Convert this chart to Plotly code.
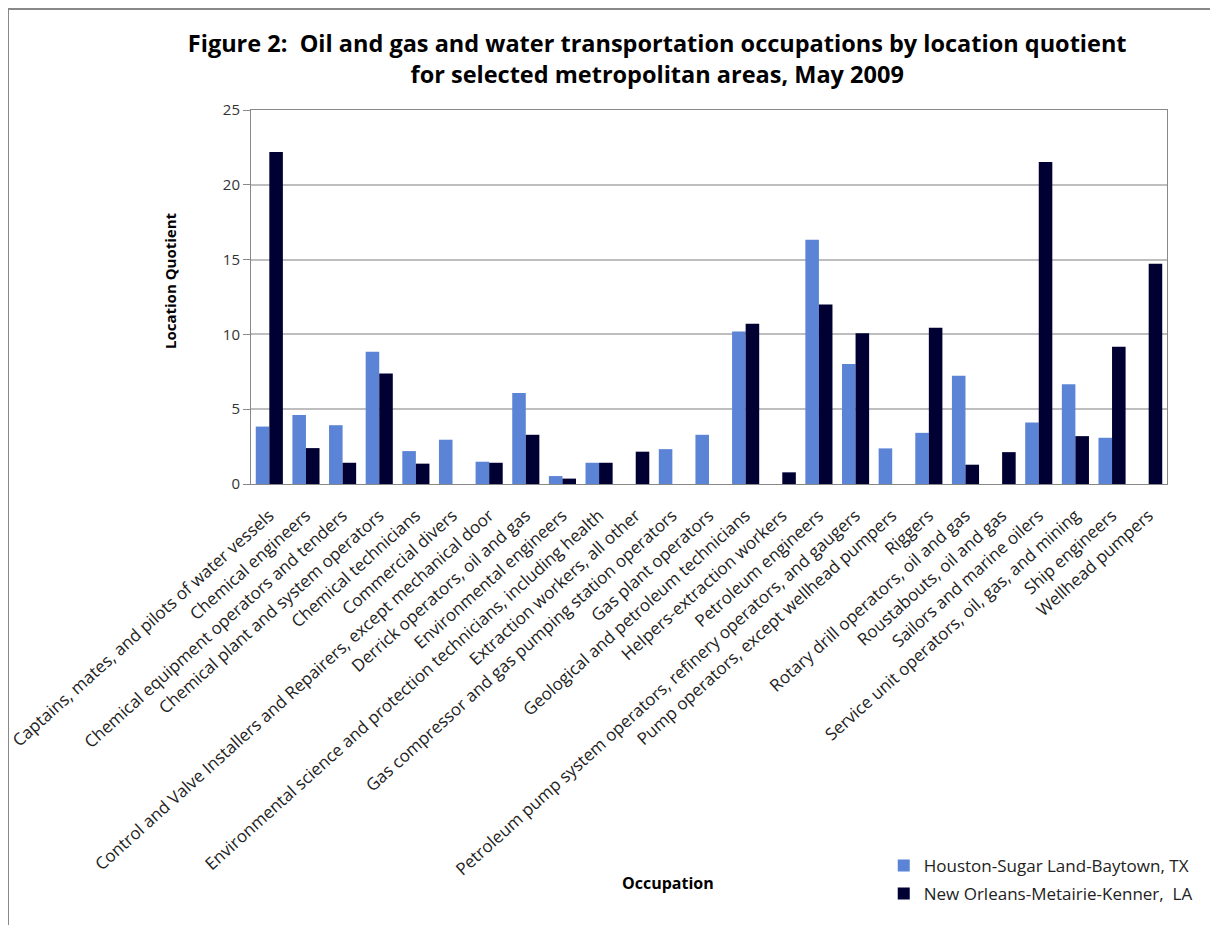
import plotly.graph_objects as go

occupations = [
    "Captains, mates, and pilots of water vessels",
    "Chemical engineers",
    "Chemical equipment operators and tenders",
    "Chemical plant and system operators",
    "Chemical technicians",
    "Commercial divers",
    "Control and Valve Installers and Repairers, except mechanical door",
    "Derrick operators, oil and gas",
    "Environmental engineers",
    "Environmental science and protection technicians, including health",
    "Extraction workers, all other",
    "Gas compressor and gas pumping station operators",
    "Gas plant operators",
    "Geological and petroleum technicians",
    "Helpers-extraction workers",
    "Petroleum engineers",
    "Petroleum pump system operators, refinery operators, and gaugers",
    "Pump operators, except wellhead pumpers",
    "Riggers",
    "Rotary drill operators, oil and gas",
    "Roustabouts, oil and gas",
    "Sailors and marine oilers",
    "Service unit operators, oil, gas, and mining",
    "Ship engineers",
    "Wellhead pumpers",
]

houston = [3.84, 4.62, 3.93, 8.84, 2.20, 2.96, 1.49, 6.09, 0.53, 1.42,
           None, 2.33, 3.29, 10.20, None, 16.33, 8.02, 2.38, 3.42, 7.24,
           None, 4.11, 6.67, 3.09, None]
new_orleans = [22.20, 2.40, 1.42, 7.38, 1.36, None, 1.42, 3.29, 0.36, 1.42,
               2.16, None, None, 10.71, 0.78, 12.00, 10.07, None, 10.44, 1.29,
               2.13, 21.53, 3.20, 9.18, 14.73]

FONT = "Open Sans"
W, H = 1218, 925
L, R, T, B = 243, 59, 102, 449
PW, PH = W - L - R, H - T - B


def px(x):
    return (x - L) / PW


def py(y):
    return (H - B - y) / PH


fig = go.Figure()
fig.add_bar(name="Houston-Sugar Land-Baytown, TX", x=occupations, y=houston,
            marker_color="#5B84D6", marker_line_width=0, legendgroup="a")
fig.add_bar(name="New Orleans-Metairie-Kenner,  LA", x=occupations, y=new_orleans,
            marker_color="#000033", marker_line_width=0, legendgroup="b")

fig.update_layout(
    width=W, height=H,
    paper_bgcolor="white", plot_bgcolor="white",
    margin=dict(l=L, r=R, t=T, b=B, autoexpand=False),
    barmode="group", bargap=0.26, bargroupgap=0,
    font=dict(family=FONT, color="#222222"),
    title=dict(
        text="Figure 2:  Oil and gas and water transportation occupations by location quotient<br>for selected metropolitan areas, May 2009",
        x=0.533, xref="container", xanchor="center",
        y=0.952, yref="container", yanchor="top",
        font=dict(size=23.5, family=FONT, color="black", weight="bold"),
    ),
    legend=dict(
        xref="container", yref="container", x=0.719, y=0.092,
        xanchor="left", yanchor="top",
        font=dict(size=17, family=FONT, color="#222222"),
        tracegroupgap=3, bgcolor="rgba(0,0,0,0)",
    ),
    showlegend=True,
)

fig.update_xaxes(
    tickangle=-42, tickfont=dict(size=17, family=FONT, color="#222222"),
    ticklabelstandoff=14,
    showline=True, linecolor="#888888", linewidth=1, mirror=True,
    ticks="", automargin=False,
)
fig.update_yaxes(
    range=[0, 25], dtick=5, tickfont=dict(size=15, family=FONT, color="#333333"),
    showgrid=True, gridcolor="#BEBEBE", gridwidth=1.5,
    showline=True, linecolor="#888888", linewidth=1, mirror=True,
    ticks="outside", ticklen=7, tickcolor="#888888",
    automargin=False, zeroline=False,
)

fig.add_annotation(text="<b>Location Quotient</b>", xref="paper", yref="paper",
                   x=px(162), y=py(273), showarrow=False, textangle=-90,
                   xanchor="center", yanchor="middle",
                   font=dict(size=15, family=FONT, color="black"))
fig.add_annotation(text="<b>Occupation</b>", xref="paper", yref="paper",
                   x=px(660), y=py(875), showarrow=False,
                   xanchor="center", yanchor="middle",
                   font=dict(size=16, family=FONT, color="black"))

# outer frame of the original figure
fig.add_shape(type="line", xref="paper", yref="paper",
              x0=px(0), x1=px(W), y0=py(1), y1=py(1),
              line=dict(color="#888888", width=2))
fig.add_shape(type="line", xref="paper", yref="paper",
              x0=px(0), x1=px(0), y0=py(0), y1=py(H),
              line=dict(color="#888888", width=2))

fig.write_html("out.html")
